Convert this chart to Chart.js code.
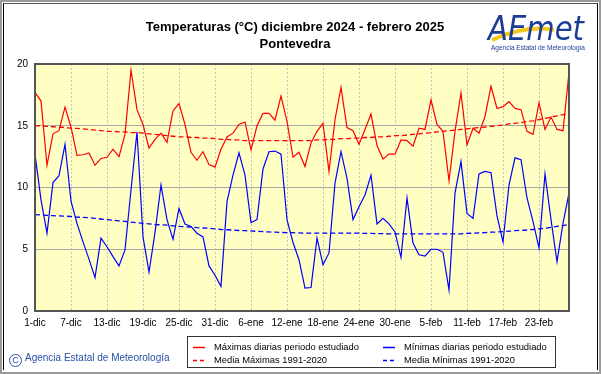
<!DOCTYPE html>
<html>
<head>
<meta charset="utf-8">
<script src="https://cdn.jsdelivr.net/npm/chart.js@4.4.1/dist/chart.umd.min.js"></script>
<style>
  html, body { margin:0; padding:0; background:#fff; }
  body { width:601px; height:374px; position:relative; overflow:hidden; font-family:"Liberation Sans", Arial, sans-serif; }
  #frame { position:absolute; left:0; top:0; width:597px; height:370px; border:2px solid #9a9a9a; }
  #inner { position:absolute; left:3px; top:3px; width:593px; height:366px; border-left:1px solid #000; border-right:1px solid #000; border-top:1px solid #555; }
  #c { position:absolute; left:0; top:0; }
  .title { position:absolute; left:0; width:590px; text-align:center; font-weight:bold; font-size:13px; color:#000; }
  #logo { position:absolute; left:484px; top:6px; width:106px; height:54px; }
  #logoTxt { position:absolute; left:488px; top:44px; width:100px; text-align:center; font-size:6.5px; color:#1b3c96; white-space:nowrap; }
  #copy { position:absolute; left:9px; top:352px; font-size:10px; color:#2a4ea8; white-space:nowrap; }
  #copy .c { display:inline-block; width:11px; height:11px; border:1px solid #2a4ea8; border-radius:50%; font-size:9px; line-height:11px; text-align:center; vertical-align:-2px; margin-right:3px; }
  #legend { position:absolute; left:187px; top:336px; width:367px; height:30px; border:1px solid #333; background:#fff; font-size:9.4px; color:#000; }
  .li { position:absolute; white-space:nowrap; }
  .li svg { position:absolute; left:0; top:5px; }
  .li span { position:absolute; left:21px; top:0; }
</style>
</head>
<body>
<div id="frame"></div>
<div id="inner"></div>
<canvas id="c" width="601" height="374"></canvas>
<div class="title" style="top:19px;">Temperaturas (°C) diciembre 2024 - febrero 2025</div>
<div class="title" style="top:36px;">Pontevedra</div>
<svg id="logo" viewBox="0 0 106 54">
  <path d="M8 34 C 30 24, 50 20, 70 24" stroke="#f2c81a" stroke-width="4" fill="none"/>
  <text x="4" y="34" font-family="DejaVu Sans, sans-serif" font-style="italic" font-size="34" fill="#1b3c96" textLength="96" lengthAdjust="spacingAndGlyphs">AEmet</text>
</svg>
<div id="logoTxt">Agencia Estatal de Meteorología</div>
<div id="copy"><span class="c">C</span>Agencia Estatal de Meteorología</div>
<div id="legend">
  <div class="li" style="left:5px; top:4px; width:180px; height:12px;"><svg width="12" height="3"><line x1="0" y1="1.5" x2="12" y2="1.5" stroke="#ff0000" stroke-width="1.5"/></svg><span>Máximas diarias periodo estudiado</span></div>
  <div class="li" style="left:195px; top:4px; width:170px; height:12px;"><svg width="12" height="3"><line x1="0" y1="1.5" x2="12" y2="1.5" stroke="#0000ff" stroke-width="1.5"/></svg><span>Mínimas diarias periodo estudiado</span></div>
  <div class="li" style="left:5px; top:17px; width:180px; height:12px;"><svg width="12" height="3"><line x1="0" y1="1.5" x2="12" y2="1.5" stroke="#ff0000" stroke-width="1.5" stroke-dasharray="4 3"/></svg><span>Media Máximas 1991-2020</span></div>
  <div class="li" style="left:195px; top:17px; width:170px; height:12px;"><svg width="12" height="3"><line x1="0" y1="1.5" x2="12" y2="1.5" stroke="#0000ff" stroke-width="1.5" stroke-dasharray="4 3"/></svg><span>Media Mínimas 1991-2020</span></div>
</div>
<script>
// ---- data ----
const monthNames = ['dic', 'ene', 'feb'];
const monthLengths = [31, 31, 28];
const tickEvery = 6;
const tickLabels = ['1-dic','7-dic','13-dic','19-dic','25-dic','31-dic','6-ene','12-ene','18-ene','24-ene','30-ene','5-feb','11-feb','17-feb','23-feb'];

const maxDaily = [
  17.7, 17.0, 11.8, 14.35, 14.6, 16.5, 14.9, 12.6, 12.65, 12.8,
  11.8, 12.35, 12.45, 13.1, 12.5, 14.3, 19.5, 16.3, 15.1, 13.2,
  13.9, 14.4, 13.65, 16.2, 16.8, 15.1, 12.85, 12.2, 12.9, 11.85,
  11.65, 13.1, 14.1, 14.4, 15.1, 15.3, 13.05, 15.0, 16.0, 16.0,
  15.45, 17.4, 15.35, 12.45, 12.85, 11.7, 13.6, 14.55, 15.2, 11.3,
  15.5, 18.1, 14.85, 14.6, 13.5, 14.7, 15.95, 13.4, 12.3, 12.7,
  12.7, 13.85, 13.8, 13.35, 14.8, 14.7, 17.1, 15.1, 14.55, 10.55,
  14.55, 17.65, 13.45, 14.8, 14.4, 15.75, 18.2, 16.4, 16.55, 16.95,
  16.4, 16.3, 14.55, 14.3, 16.85, 14.7, 15.7, 14.7, 14.6, 19.3
];
const minDaily = [
  12.7, 9.0, 6.3, 10.4, 10.95, 13.5, 8.9, 7.1, 5.6, 4.2,
  2.7, 5.9, 5.2, 4.4, 3.65, 4.95, 9.8, 14.5, 6.0, 3.15,
  6.35, 10.2, 7.4, 5.8, 8.3, 7.05, 6.85, 6.3, 6.0, 3.65,
  2.9, 2.0, 8.85, 11.0, 12.8, 11.0, 7.15, 7.4, 11.5, 12.9,
  12.95, 12.7, 7.4, 5.55, 4.15, 1.85, 1.9, 5.9, 3.75, 4.7,
  10.35, 12.9, 10.75, 7.4, 8.45, 9.4, 11.0, 7.05, 7.5, 7.05,
  6.4, 4.35, 9.15, 5.5, 4.55, 4.45, 5.0, 5.0, 4.75, 1.7,
  9.55, 12.1, 7.9, 7.5, 11.1, 11.3, 11.2, 7.7, 5.6, 10.2,
  12.4, 12.25, 9.15, 7.25, 5.1, 11.1, 7.4, 4.0, 7.1, 9.55
];
const meanMax = [
  15.0, 14.98, 14.95, 14.92, 14.9, 14.85, 14.8, 14.78, 14.75, 14.7,
  14.65, 14.6, 14.55, 14.55, 14.5, 14.5, 14.45, 14.45, 14.4, 14.35,
  14.3, 14.25, 14.2, 14.15, 14.1, 14.1, 14.05, 14.05, 14.0, 14.0,
  13.95, 13.9, 13.9, 13.85, 13.85, 13.8, 13.8, 13.8, 13.8, 13.8,
  13.8, 13.8, 13.8, 13.8, 13.8, 13.8, 13.8, 13.85, 13.85, 13.9,
  13.9, 13.95, 13.95, 14.0, 14.0, 14.05, 14.05, 14.1, 14.1, 14.15,
  14.2, 14.2, 14.25, 14.3, 14.35, 14.4, 14.45, 14.5, 14.55, 14.6,
  14.65, 14.7, 14.75, 14.8, 14.85, 14.9, 14.95, 15.0, 15.05, 15.15,
  15.2, 15.25, 15.35, 15.4, 15.5, 15.6, 15.7, 15.8, 15.9, 16.0
];
const meanMin = [
  7.8, 7.78, 7.75, 7.72, 7.7, 7.68, 7.65, 7.6, 7.58, 7.55,
  7.5, 7.45, 7.4, 7.35, 7.3, 7.25, 7.2, 7.15, 7.1, 7.05,
  7.0, 6.98, 6.95, 6.9, 6.85, 6.82, 6.8, 6.75, 6.72, 6.7,
  6.65, 6.6, 6.58, 6.55, 6.52, 6.5, 6.48, 6.45, 6.42, 6.4,
  6.38, 6.36, 6.35, 6.34, 6.32, 6.3, 6.3, 6.3, 6.3, 6.3,
  6.3, 6.3, 6.3, 6.3, 6.3, 6.28, 6.28, 6.27, 6.26, 6.25,
  6.25, 6.25, 6.25, 6.25, 6.25, 6.25, 6.25, 6.25, 6.25, 6.25,
  6.25, 6.25, 6.28, 6.3, 6.32, 6.35, 6.38, 6.4, 6.43, 6.46,
  6.5, 6.53, 6.56, 6.6, 6.65, 6.7, 6.78, 6.85, 6.92, 7.0
];

// categories: one per day
const days = [];
monthNames.forEach((m, k) => { for (let d = 1; d <= monthLengths[k]; d++) days.push(d + '-' + m); });

const plotBg = {
  id: 'plotBg',
  beforeDraw(chart) {
    const a = chart.chartArea, ctx = chart.ctx;
    ctx.save(); ctx.fillStyle = '#ffffc4'; ctx.fillRect(a.left, a.top, a.right - a.left, a.bottom - a.top); ctx.restore();
  },
  afterDraw(chart) {
    const a = chart.chartArea, ctx = chart.ctx;
    ctx.save(); ctx.strokeStyle = '#555'; ctx.lineWidth = 2;
    ctx.strokeRect(a.left, a.top, a.right - a.left, a.bottom - a.top); ctx.restore();
  }
};

const font = { family: '"Liberation Sans", Arial, sans-serif', size: 10 };

new Chart(document.getElementById('c'), {
  type: 'line',
  data: {
    labels: days,
    datasets: [
      { label: 'Máximas diarias periodo estudiado', data: maxDaily, borderColor: '#ff0000', borderWidth: 1.2 },
      { label: 'Mínimas diarias periodo estudiado', data: minDaily, borderColor: '#0000ff', borderWidth: 1.2 },
      { label: 'Media Máximas 1991-2020', data: meanMax, borderColor: '#ff0000', borderWidth: 1.3, borderDash: [5, 3] },
      { label: 'Media Mínimas 1991-2020', data: meanMin, borderColor: '#0000ff', borderWidth: 1.3, borderDash: [5, 3] }
    ]
  },
  options: {
    responsive: false, animation: false, devicePixelRatio: 1,
    elements: { point: { radius: 0 }, line: { tension: 0, fill: false } },
    layout: { padding: { left: 5, right: 32, top: 64, bottom: 43 } },
    plugins: { legend: { display: false }, tooltip: { enabled: false }, title: { display: false } },
    scales: {
      y: {
        min: 0, max: 20,
        afterFit(s) { s.width = 30; },
        ticks: { stepSize: 5, font, color: '#000', padding: 7 },
        grid: { color: '#a8a8a8', drawTicks: false, lineWidth: 1 },
        border: { display: false }
      },
      x: {
        afterFit(s) { s.height = 20; },
        ticks: {
          autoSkip: false, maxRotation: 0, font, color: '#000', padding: 6,
          callback(v, i) { return i % tickEvery === 0 ? tickLabels[i / tickEvery] : null; }
        },
        grid: { color: '#c4c4c4', drawTicks: false, lineWidth: 1 },
        border: { display: false, dash: [2, 2] }
      }
    }
  },
  plugins: [plotBg]
});
</script>
</body>
</html>
